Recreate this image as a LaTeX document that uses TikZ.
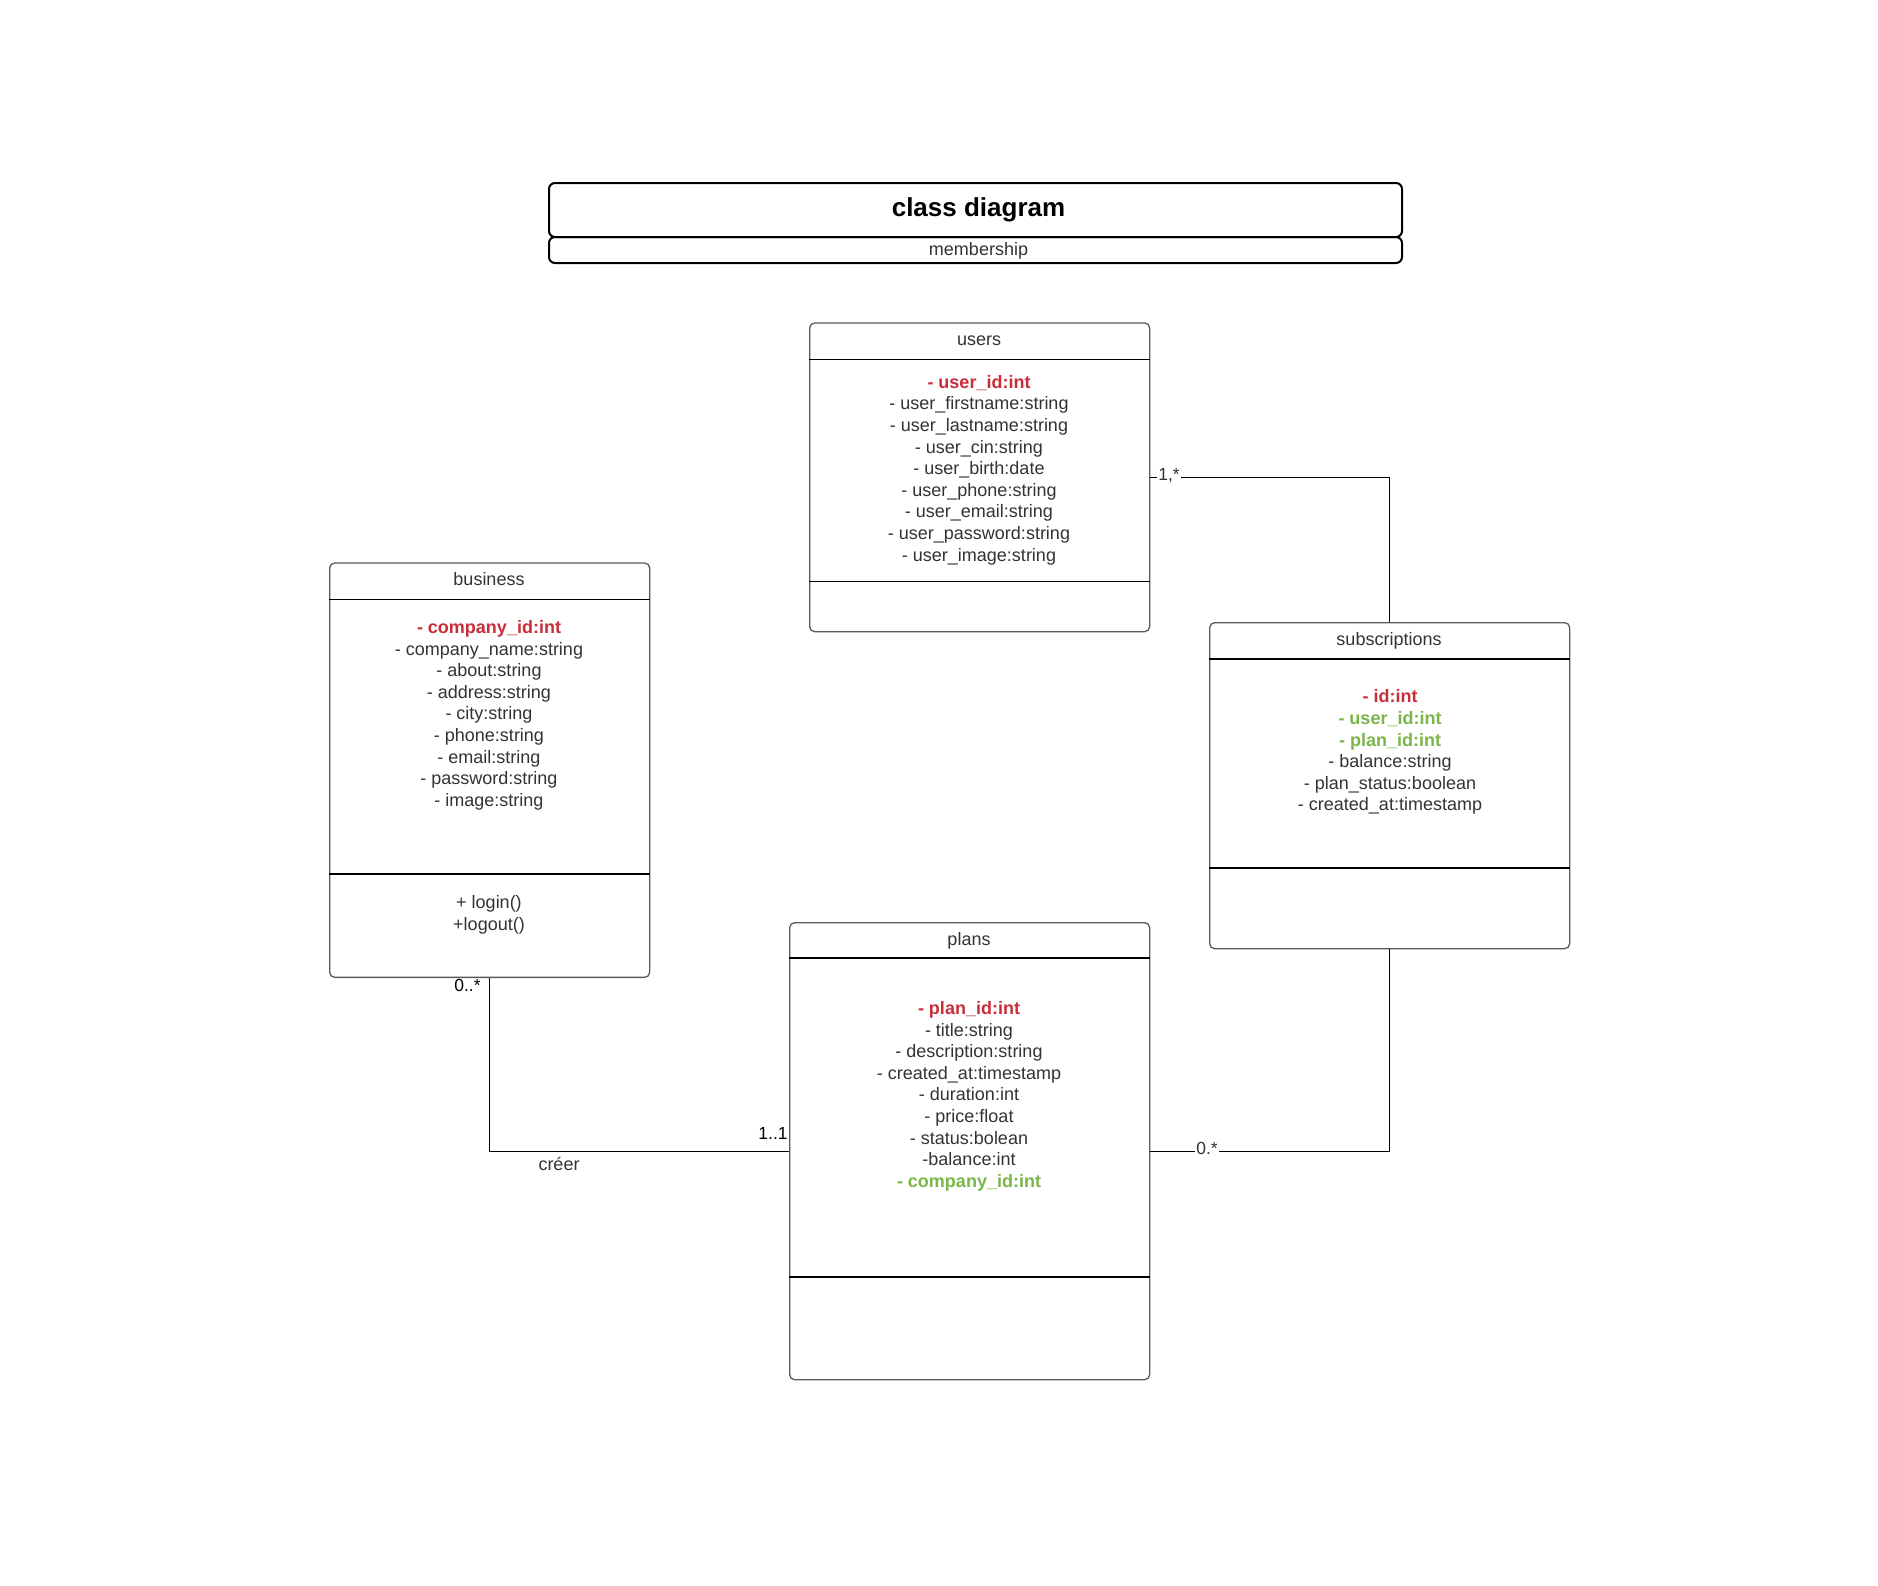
\documentclass[tikz,border=0pt]{standalone}
\usepackage{fontspec}
\setmainfont{Liberation Sans}
\usetikzlibrary{calc}
\definecolor{idred}{HTML}{C92D39}
\definecolor{fkgreen}{HTML}{7AB648}
\definecolor{txtgray}{HTML}{333333}
\definecolor{boxgray}{HTML}{5A5A5A}
\newcommand{\pkey}[1]{\textcolor{idred}{\bfseries #1}}
\newcommand{\fkey}[1]{\textcolor{fkgreen}{\bfseries #1}}
\tikzset{
  titlebox/.style={draw=black, line width=2pt, rounded corners=6pt, inner sep=0pt, anchor=north west},
  classbox/.style={draw=boxgray, line width=1.3pt, rounded corners=5pt, inner sep=0pt, anchor=north west, fill=white},
  divider/.style={draw=black, line width=1.1pt},
  conn/.style={draw=black, line width=1.2pt},
  classtext/.style={text=txtgray, inner sep=0pt, font=\fontsize{18}{21.6}\selectfont},
  attrtext/.style={text=txtgray, inner sep=0pt, align=center, anchor=north, font=\fontsize{18}{21.6}\selectfont},
  multlabel/.style={inner sep=1pt, fill=white, font=\fontsize{17.5}{20}\selectfont},
}
\begin{document}
\begin{tikzpicture}[x=1pt,y=-1pt]
\useasboundingbox (0,0) rectangle (1878,1585);
\fill[white] (0,0) rectangle (1878,1585);

% title
\node[titlebox, minimum width=853, minimum height=54] (title) at (548,182) {};
\node[titlebox, minimum width=853, minimum height=26] (subtitle) at (548,236) {};
\node[anchor=base, inner sep=0pt, font=\fontsize{26}{31}\selectfont\bfseries] (titletext) at (978.5,216) {class diagram};
\node[anchor=base, classtext] (subtitletext) at (978.5,255.7) {membership};

% classes
\node[classbox, minimum width=340, minimum height=308.7] (users) at (809,322.3) {};
\node[classbox, minimum width=320, minimum height=414.4] (business) at (329,562.3) {};
\node[classbox, minimum width=360, minimum height=326] (subs) at (1209,622) {};
\node[classbox, minimum width=360, minimum height=457] (plans) at (789,922) {};

% compartments
\draw[divider] ($(users.north west)+(0,37)$) -- ($(users.north east)+(0,37)$);
\draw[divider] ($(users.north west)+(0,259)$) -- ($(users.north east)+(0,259)$);
\draw[divider] ($(business.north west)+(0,37)$) -- ($(business.north east)+(0,37)$);
\draw[divider] ($(business.north west)+(0,311.7)$) -- ($(business.north east)+(0,311.7)$);
\draw[divider] ($(subs.north west)+(0,37)$) -- ($(subs.north east)+(0,37)$);
\draw[divider] ($(subs.north west)+(0,246)$) -- ($(subs.north east)+(0,246)$);
\draw[divider] ($(plans.north west)+(0,36)$) -- ($(plans.north east)+(0,36)$);
\draw[divider] ($(plans.north west)+(0,355)$) -- ($(plans.north east)+(0,355)$);

% class names
\node[classtext, anchor=base] (usersname) at (979,345) {users};
\node[classtext, anchor=base] (businessname) at (489,585) {business};
\node[classtext, anchor=base] (subsname) at (1389,645) {subscriptions};
\node[classtext, anchor=base] (plansname) at (969,945) {plans};

% attributes
\node[attrtext] (usersattr) at (979,372.9) {\strut\pkey{- user\_id:int}\\
- user\_firstname:string\\
- user\_lastname:string\\
- user\_cin:string\\
- user\_birth:date\\
- user\_phone:string\\
- user\_email:string\\
- user\_password:string\\
- user\_image:string};

\node[attrtext] (businessattr) at (489,618.2) {\strut\pkey{- company\_id:int}\\
- company\_name:string\\
- about:string\\
- address:string\\
- city:string\\
- phone:string\\
- email:string\\
- password:string\\
- image:string};

\node[attrtext] (businessops) at (489,893.2) {\strut+ login()\\
+logout()};

\node[attrtext] (subsattr) at (1390,687.6) {\strut\pkey{- id:int}\\
\fkey{- user\_id:int}\\
\fkey{- plan\_id:int}\\
- balance:string\\
- plan\_status:boolean\\
- created\_at:timestamp};

\node[attrtext] (plansattr) at (969,999.2) {\strut\pkey{- plan\_id:int}\\
- title:string\\
- description:string\\
- created\_at:timestamp\\
- duration:int\\
- price:float\\
- status:bolean\\
-balance:int\\
\fkey{- company\_id:int}};

% connectors
\draw[conn] (users.east) -- (users.east -| subs.north) -- (subs.north);
\draw[conn] (business.south) |- (plans.west);
\draw[conn] (plans.east) -| (subs.south);

% connector labels
\node[multlabel, text=txtgray, anchor=base] (usersmult) at (1169,480) {1,*};
\node[multlabel, text=txtgray, anchor=base] (plansmult) at (1207,1154) {0.*};
\node[multlabel, text=black, anchor=base, fill=none] (businessmult) at (467.5,991.7) {0..*};
\node[multlabel, text=black, anchor=base, fill=none] (planscreermult) at (773,1139.3) {1..1};
\node[classtext, anchor=base] (creer) at (559,1170) {créer};
\end{tikzpicture}
\end{document}
